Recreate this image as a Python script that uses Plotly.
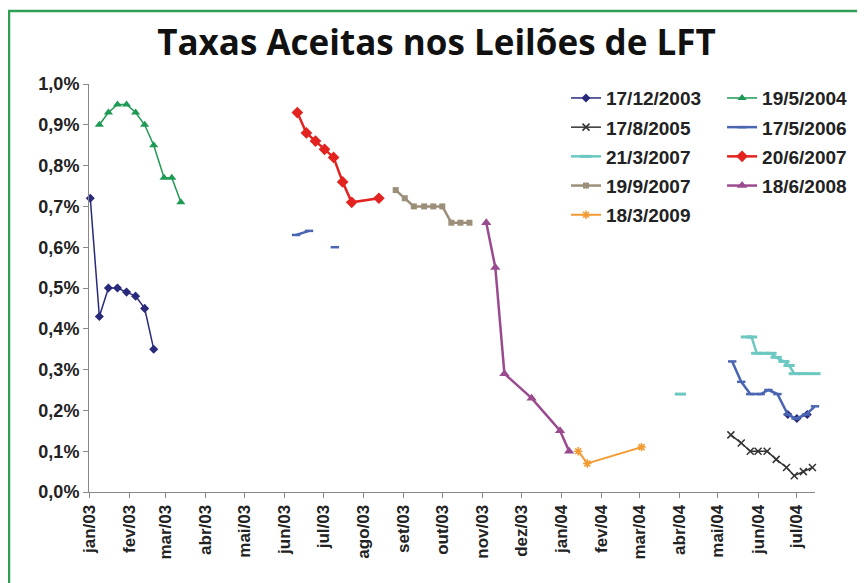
import plotly.graph_objs as go


# datas e taxas (%) de cada leilão
datas_17_12_2003 = ['2003-01-02', '2003-01-09', '2003-01-16', '2003-01-23', '2003-01-30',
                    '2003-02-06', '2003-02-13', '2003-02-20', '2003-03-01',
                    '2004-06-24', '2004-07-01', '2004-07-09']
taxas_17_12_2003 = [0.72, 0.43, 0.50, 0.50, 0.49, 0.48, 0.45, 0.35, None, 0.19, 0.18, 0.19]

datas_19_5_2004 = ['2003-01-09', '2003-01-16', '2003-01-23', '2003-01-30', '2003-02-06',
                   '2003-02-13', '2003-02-20', '2003-02-28', '2003-03-06', '2003-03-13']
taxas_19_5_2004 = [0.90, 0.93, 0.95, 0.95, 0.93, 0.90, 0.85, 0.77, 0.77, 0.71]

datas_17_8_2005 = ['2004-05-11', '2004-05-19', '2004-05-26', '2004-06-01', '2004-06-08',
                   '2004-06-15', '2004-06-23', '2004-06-29', '2004-07-06', '2004-07-13']
taxas_17_8_2005 = [0.14, 0.12, 0.10, 0.10, 0.10, 0.08, 0.06, 0.04, 0.05, 0.06]

datas_17_5_2006 = ['2003-06-10', '2003-06-20', '2003-06-30', '2003-07-10', '2003-08-01',
                   '2004-05-12', '2004-05-19', '2004-05-26', '2004-06-03', '2004-06-09',
                   '2004-06-16', '2004-06-24', '2004-06-30', '2004-07-08', '2004-07-15']
taxas_17_5_2006 = [0.63, 0.64, None, 0.60, None,
                   0.32, 0.27, 0.24, 0.24, 0.25, 0.24, 0.19, 0.18, 0.19, 0.21]

datas_21_3_2007 = ['2004-04-02', '2004-05-01',
                   '2004-05-23', '2004-05-27', '2004-05-31', '2004-06-06', '2004-06-11',
                   '2004-06-15', '2004-06-21', '2004-06-25', '2004-06-29', '2004-07-06',
                   '2004-07-15']
taxas_21_3_2007 = [0.24, None, 0.38, 0.38, 0.34, 0.34, 0.34, 0.33, 0.32, 0.31, 0.29, 0.29, 0.29]

datas_20_6_2007 = ['2003-06-11', '2003-06-18', '2003-06-25', '2003-07-02', '2003-07-09',
                   '2003-07-16', '2003-07-23', '2003-08-13']
taxas_20_6_2007 = [0.93, 0.88, 0.86, 0.84, 0.82, 0.76, 0.71, 0.72]

datas_19_9_2007 = ['2003-08-26', '2003-09-02', '2003-09-09', '2003-09-17', '2003-09-24',
                   '2003-10-01', '2003-10-08', '2003-10-15', '2003-10-22']
taxas_19_9_2007 = [0.74, 0.72, 0.70, 0.70, 0.70, 0.70, 0.66, 0.66, 0.66]

datas_18_6_2008 = ['2003-11-04', '2003-11-11', '2003-11-18', '2003-12-09', '2003-12-31', '2004-01-07']
taxas_18_6_2008 = [0.66, 0.55, 0.29, 0.23, 0.15, 0.10]

datas_18_3_2009 = ['2004-01-14', '2004-01-21', '2004-03-03']
taxas_18_3_2009 = [0.10, 0.07, 0.11]

# rótulos do eixo x
meses_vals = ['2003-01-01', '2003-02-01', '2003-03-01', '2003-04-01', '2003-05-01',
              '2003-06-01', '2003-07-01', '2003-08-01', '2003-09-01', '2003-10-01',
              '2003-11-01', '2003-12-01', '2004-01-01', '2004-02-01', '2004-03-01',
              '2004-04-01', '2004-05-01', '2004-06-01', '2004-07-01']
meses_txt = ['jan/03', 'fev/03', 'mar/03', 'abr/03', 'mai/03', 'jun/03', 'jul/03',
             'ago/03', 'set/03', 'out/03', 'nov/03', 'dez/03', 'jan/04', 'fev/04',
             'mar/04', 'abr/04', 'mai/04', 'jun/04', 'jul/04']


def serie(x, y, nome, cor, simbolo, tamanho, legenda, largura=2, linha_marker=0):
    return go.Scatter(
        x=x, y=y, name=nome, mode='lines+markers',
        line=dict(color=cor, width=largura),
        marker=dict(symbol=simbolo, size=tamanho, color=cor,
                    line=dict(color=cor, width=linha_marker)),
        legend=legenda, legendgroup=nome, cliponaxis=False,
        connectgaps=False
    )


fonte = 'Liberation Sans, Arial, sans-serif'
fonte_leg = dict(family=fonte, size=19, color='#222222', weight='bold')

figure = go.Figure(
    data=[
        # coluna 1 da legenda
        serie(datas_17_12_2003, taxas_17_12_2003, '17/12/2003', '#2A2A7C', 'diamond', 7, 'legend', 1.5),
        serie(datas_17_8_2005, taxas_17_8_2005, '17/8/2005', '#333333', 'x-thin', 7, 'legend', 1.5, 1.5),
        serie(datas_21_3_2007, taxas_21_3_2007, '21/3/2007', '#6CC8C1', 'line-ew', 8, 'legend', 2.5, 3),
        serie(datas_19_9_2007, taxas_19_9_2007, '19/9/2007', '#9C8F7A', 'square', 6, 'legend', 2.5),
        serie(datas_18_3_2009, taxas_18_3_2009, '18/3/2009', '#F39A32', 'asterisk-open', 7, 'legend', 2, 1.5),
        # coluna 2 da legenda
        serie(datas_19_5_2004, taxas_19_5_2004, '19/5/2004', '#1F9A55', 'triangle-up', 8, 'legend2', 1.5),
        serie(datas_17_5_2006, taxas_17_5_2006, '17/5/2006', '#4A66B2', 'line-ew', 6, 'legend2', 2.5, 2.5),
        serie(datas_20_6_2007, taxas_20_6_2007, '20/6/2007', '#E3231F', 'diamond', 9, 'legend2', 2.5),
        serie(datas_18_6_2008, taxas_18_6_2008, '18/6/2008', '#9A4A8E', 'triangle-up', 9, 'legend2', 2.5),
    ],
    layout=go.Layout(
        # a página tem 8px de margem no body
        width=857,
        height=575,
        margin=go.layout.Margin(l=81, r=50, t=76, b=91),
        paper_bgcolor='white',
        plot_bgcolor='white',
        separators=',.',
        font=dict(family=fonte, color='#222222'),
        title=dict(
            text='<b>Taxas Aceitas nos Leilões de LFT</b>',
            x=0.5, xref='container', xanchor='center',
            y=0.939, yref='container', yanchor='middle',
            font=dict(family='Open Sans, sans-serif', size=35, color='#111111')
        ),
        xaxis=dict(
            type='date',
            range=['2003-01-01', '2004-07-15'],
            tickvals=meses_vals,
            ticktext=meses_txt,
            tickangle=-90,
            tickfont=dict(family=fonte, size=17, color='#222222', weight='bold'),
            ticks='outside', ticklen=5, tickcolor='#888888',
            showline=True, linecolor='#888888', linewidth=1,
            showgrid=False, zeroline=False
        ),
        yaxis=dict(
            range=[0, 1.0],
            dtick=0.1,
            tickformat='.1f',
            ticksuffix='%',
            tickfont=dict(family=fonte, size=18, color='#222222', weight='bold'),
            ticks='outside', ticklen=5, tickcolor='#888888',
            showline=True, linecolor='#888888', linewidth=1,
            showgrid=False, zeroline=False
        ),
        legend=dict(
            x=0.657, y=1.012, xanchor='left', yanchor='top',
            tracegroupgap=1.5, bgcolor='rgba(0,0,0,0)',
            font=fonte_leg
        ),
        legend2=dict(
            x=0.872, y=1.012, xanchor='left', yanchor='top',
            tracegroupgap=1.5, bgcolor='rgba(0,0,0,0)',
            font=fonte_leg
        ),
        shapes=[
            # moldura verde
            dict(type='rect', xref='paper', yref='paper',
                 x0=-0.1102, x1=1.0634, y0=-0.25, y1=1.179,
                 line=dict(color='#2E9E55', width=2.5))
        ]
    )
)

figure.write_html('out.html')
